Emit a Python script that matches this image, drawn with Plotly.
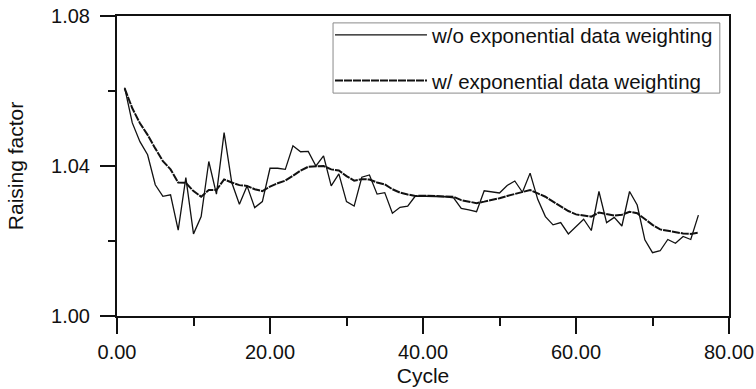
import plotly.graph_objects as go

cycles = list(range(1, 77))

without_weighting = [
    1.0609, 1.0515, 1.0465, 1.0430, 1.0350, 1.0319, 1.0323, 1.0229, 1.0369, 1.0219,
    1.0265, 1.0412, 1.0325, 1.0489, 1.0356, 1.0298, 1.0347, 1.0289, 1.0305, 1.0394,
    1.0394, 1.0391, 1.0454, 1.0438, 1.0439, 1.0400, 1.0427, 1.0347, 1.0379, 1.0305,
    1.0293, 1.0370, 1.0376, 1.0325, 1.0329, 1.0274, 1.0290, 1.0293, 1.0320, 1.0320,
    1.0320, 1.0320, 1.0318, 1.0315, 1.0287, 1.0283, 1.0278, 1.0334, 1.0330, 1.0328,
    1.0348, 1.0360, 1.0330, 1.0381, 1.0311, 1.0265, 1.0243, 1.0249, 1.0219, 1.0238,
    1.0258, 1.0228, 1.0332, 1.0249, 1.0263, 1.0240, 1.0332, 1.0296, 1.0203, 1.0169,
    1.0174, 1.0204, 1.0194, 1.0212, 1.0204, 1.0269,
]

with_weighting = [
    1.0607, 1.0554, 1.0514, 1.0483, 1.0447, 1.0413, 1.0391, 1.0356, 1.0355, 1.0333,
    1.0318, 1.0336, 1.0336, 1.0364, 1.0356, 1.0349, 1.0347, 1.0338, 1.0333, 1.0345,
    1.0354, 1.0361, 1.0374, 1.0388, 1.0398, 1.0400, 1.0400, 1.0391, 1.0388, 1.0373,
    1.0361, 1.0365, 1.0364, 1.0356, 1.0351, 1.0338, 1.0329, 1.0324, 1.0320, 1.0321,
    1.0320, 1.0320, 1.0319, 1.0318, 1.0309, 1.0305, 1.0301, 1.0305, 1.0309, 1.0314,
    1.0320, 1.0325, 1.0330, 1.0336, 1.0327, 1.0318, 1.0305, 1.0293, 1.0280, 1.0271,
    1.0268, 1.0265, 1.0276, 1.0271, 1.0268, 1.0270, 1.0278, 1.0274, 1.0258, 1.0243,
    1.0231, 1.0227, 1.0223, 1.0220, 1.0219, 1.0222,
]

series_names = ["w/o exponential data weighting", "w/ exponential data weighting"]
x_ticks = [0, 20, 40, 60, 80]
y_ticks = [1.00, 1.04, 1.08]

FONT = "Arial, 'Liberation Sans', Helvetica, sans-serif"
INK = "#111111"

fig = go.Figure()
fig.add_trace(go.Scatter(
    x=cycles, y=without_weighting, mode="lines", name=series_names[0],
    legendgroup="a", line=dict(color=INK, width=1.3),
))
fig.add_trace(go.Scatter(
    x=cycles, y=with_weighting, mode="lines", name=series_names[1],
    legendgroup="b", line=dict(color=INK, width=2.0, dash="8px,1px"),
))

fig.update_layout(
    width=756, height=389,
    margin=dict(l=117, r=27, t=16, b=73),
    paper_bgcolor="white", plot_bgcolor="white",
    font=dict(family=FONT, size=20, color=INK),
    showlegend=True,
    legend=dict(
        x=0.348, y=1.003, xanchor="left", yanchor="top",
        borderwidth=0, bgcolor="rgba(255,255,255,0)",
        font=dict(family=FONT, size=20.5, color=INK),
        itemwidth=92, tracegroupgap=16, traceorder="grouped",
    ),
    shapes=[dict(
        type="rect", xref="paper", yref="paper",
        x0=0.353, x1=0.985, y0=0.743, y1=0.977,
        line=dict(color="#8a8a8a", width=1), fillcolor="rgba(0,0,0,0)",
    )],
)

fig.update_xaxes(
    range=[0, 80], tickvals=x_ticks, tickformat=".2f", automargin=False,
    showline=True, linecolor=INK, linewidth=2, mirror=True,
    ticks="outside", ticklen=16, tickwidth=1.5, tickcolor=INK,
    minor=dict(dtick=10, ticks="outside", ticklen=8, tickwidth=1.5, tickcolor=INK),
    showgrid=False, zeroline=False,
    ticklabelstandoff=1,
    title=dict(text="Cycle", font=dict(family=FONT, size=21, color=INK), standoff=6),
)
fig.update_yaxes(
    range=[1.00, 1.08], tickvals=y_ticks, tickformat=".2f", automargin=False,
    showline=True, linecolor=INK, linewidth=2, mirror=True,
    ticks="outside", ticklen=15, tickwidth=1.5, tickcolor=INK,
    minor=dict(dtick=0.02, ticks="outside", ticklen=7, tickwidth=1.5, tickcolor=INK),
    showgrid=False, zeroline=False,
    ticklabelstandoff=6,
    title=dict(text="Raising factor", font=dict(family=FONT, size=21, color=INK), standoff=22),
)

fig.write_html("out.html")
